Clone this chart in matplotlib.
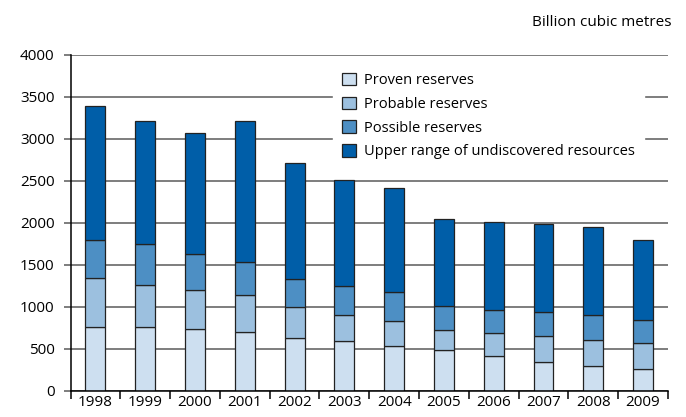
import numpy as np
import matplotlib
matplotlib.use("Agg")
import matplotlib.pyplot as plt

plt.rcParams['font.family'] = ['Open Sans', 'DejaVu Sans']

# data (billion cubic metres)
years = ['1998', '1999', '2000', '2001', '2002', '2003',
         '2004', '2005', '2006', '2007', '2008', '2009']
proven = [755, 758, 738, 695, 624, 588, 532, 481, 409, 342, 290, 255]
probable = [583, 504, 457, 448, 372, 317, 294, 245, 274, 305, 310, 309]
possible = [456, 488, 432, 393, 330, 338, 345, 279, 281, 290, 305, 274]
undiscovered = [1599, 1464, 1437, 1678, 1385, 1262, 1242, 1035, 1048, 1044, 1044, 952]

labels = ['Proven reserves', 'Probable reserves', 'Possible reserves',
          'Upper range of undiscovered resources']
colors = ['#cddff0', '#9cc0df', '#4d8fc4', '#005ea8']

W, H = 686, 417
fig = plt.figure(figsize=(W / 100, H / 100), dpi=100)
ax = fig.add_axes([70.5 / W, 1 - 390.7 / H, 597.5 / W, 336 / H])

x = np.arange(len(years))
bottom = np.zeros(len(years))
for vals, lab, col in zip([proven, probable, possible, undiscovered], labels, colors):
    ax.bar(x, vals, width=0.4, bottom=bottom, color=col, edgecolor='#222222',
           linewidth=0.9, label=lab, zorder=3)
    bottom += np.array(vals)

ax.set_xlim(-0.5, len(years) - 0.5)
ax.set_ylim(0, 4000)
ax.set_yticks(range(0, 4001, 500))
ax.yaxis.grid(True, color='#5a5a5a', linewidth=1.1, zorder=0)
ax.tick_params(axis='y', length=5, width=1.1, color='#5a5a5a', labelsize=11, pad=6.5)

ax.set_xticks(x)
ax.set_xticklabels(years)
ax.set_xticks(np.arange(-0.5, len(years)), minor=True)
ax.tick_params(axis='x', which='major', length=0, labelsize=11, pad=3)
ax.tick_params(axis='x', which='minor', length=6, width=1.1, color='black')

for s in ['top', 'right']:
    ax.spines[s].set_visible(False)
ax.spines['left'].set_linewidth(1.1)
ax.spines['bottom'].set_linewidth(1.1)
ax.spines['left'].set_zorder(4)
ax.spines['bottom'].set_zorder(4)

leg = ax.legend(loc='upper left', bbox_to_anchor=(333 / W, 1 - 64 / H),
                bbox_transform=fig.transFigure, borderaxespad=0, fontsize=10.5,
                frameon=True, fancybox=False, edgecolor='white', framealpha=1,
                handlelength=0.95, handleheight=0.95, handletextpad=0.6,
                labelspacing=0.58, borderpad=0.6)
leg.set_zorder(5)
for h in leg.legend_handles:
    h.set_linewidth(0.9)

fig.text(672 / W, 1 - 22 / H, 'Billion cubic metres', ha='right', va='center', fontsize=11)

fig.savefig('out.png', dpi=100)
